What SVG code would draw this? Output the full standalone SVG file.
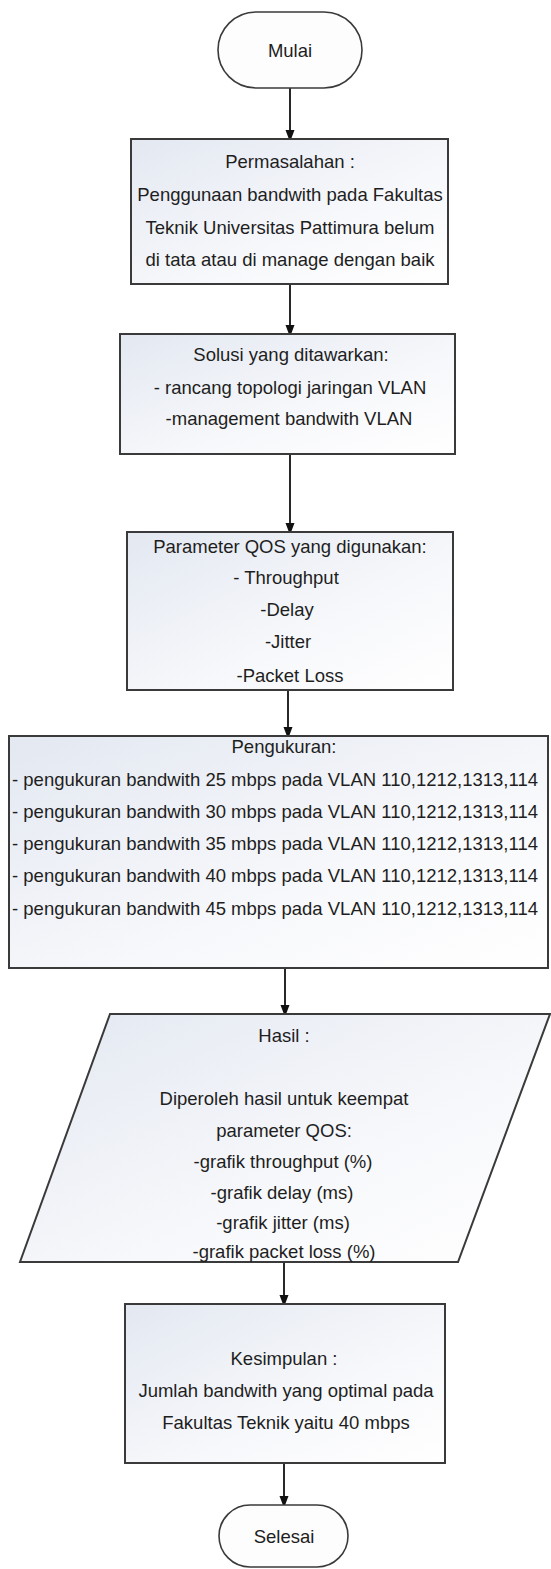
<svg xmlns="http://www.w3.org/2000/svg" width="551" height="1569" viewBox="0 0 551 1569">
<style>
.box{stroke:#3a3a3a;stroke-width:2;fill:url(#g)}
.term{stroke:#3a3a3a;stroke-width:1.6;fill:#fdfdfd}
text{font-family:"Liberation Sans",Arial,sans-serif;font-size:18.5px;fill:#1e1e1e;text-anchor:middle}
.conn{stroke:#111;stroke-width:1.8;fill:none;marker-end:url(#ah)}
</style>
<defs>
<linearGradient id="g" x1="0" y1="0" x2="1" y2="1">
<stop offset="0" stop-color="#e3e8f1"/>
<stop offset="0.6" stop-color="#f7f8fb"/>
<stop offset="1" stop-color="#ffffff"/>
</linearGradient>
<marker id="ah" markerWidth="12" markerHeight="16" refX="12" refY="6" orient="auto" markerUnits="userSpaceOnUse" viewBox="0 0 16 12">
<path d="M0,0 L16,6 L0,12 Z" fill="#111"/>
</marker>
</defs>
<rect width="551" height="1569" fill="#ffffff"/>

<g id="connectors">
<line class="conn" x1="290" y1="88" x2="290" y2="139"/>
<line class="conn" x1="290" y1="284" x2="290" y2="334"/>
<line class="conn" x1="290" y1="454" x2="290" y2="532"/>
<line class="conn" x1="288" y1="690" x2="288" y2="736"/>
<line class="conn" x1="285" y1="968" x2="285" y2="1014"/>
<line class="conn" x1="284" y1="1262" x2="284" y2="1304"/>
<line class="conn" x1="284" y1="1463" x2="284" y2="1505"/>
</g>

<g id="mulai">
<rect class="term" x="218" y="12" width="144" height="76" rx="38" ry="38"/>
<text x="290" y="57">Mulai</text>
</g>

<g id="permasalahan">
<rect class="box" x="131" y="139" width="317" height="145"/>
<text x="290" y="168">Permasalahan :</text>
<text x="290" y="201">Penggunaan bandwith pada Fakultas</text>
<text x="290" y="234">Teknik Universitas Pattimura belum</text>
<text x="290" y="266">di tata atau di manage dengan baik</text>
</g>

<g id="solusi">
<rect class="box" x="120" y="334" width="335" height="120"/>
<text x="291" y="361">Solusi yang ditawarkan:</text>
<text x="290" y="394">- rancang topologi jaringan VLAN</text>
<text x="289" y="425">-management bandwith VLAN</text>
</g>

<g id="parameter">
<rect class="box" x="127" y="532" width="326" height="158"/>
<text x="290" y="553">Parameter QOS yang digunakan:</text>
<text x="286" y="584">- Throughput</text>
<text x="287" y="616">-Delay</text>
<text x="288" y="648">-Jitter</text>
<text x="290" y="682">-Packet Loss</text>
</g>

<g id="pengukuran">
<rect class="box" x="9" y="736" width="539" height="232"/>
<text x="284" y="753">Pengukuran:</text>
<text x="275" y="786">- pengukuran bandwith 25 mbps pada VLAN 110,1212,1313,114</text>
<text x="275" y="818">- pengukuran bandwith 30 mbps pada VLAN 110,1212,1313,114</text>
<text x="275" y="850">- pengukuran bandwith 35 mbps pada VLAN 110,1212,1313,114</text>
<text x="275" y="882">- pengukuran bandwith 40 mbps pada VLAN 110,1212,1313,114</text>
<text x="275" y="915">- pengukuran bandwith 45 mbps pada VLAN 110,1212,1313,114</text>
</g>

<g id="hasil">
<polygon class="box" points="110,1014 550,1014 458,1262 20,1262"/>
<text x="284" y="1042">Hasil :</text>
<text x="284" y="1105">Diperoleh hasil untuk keempat</text>
<text x="284" y="1137">parameter QOS:</text>
<text x="283" y="1168">-grafik throughput (%)</text>
<text x="282" y="1199">-grafik delay (ms)</text>
<text x="283" y="1229">-grafik jitter (ms)</text>
<text x="284" y="1258">-grafik packet loss (%)</text>
</g>

<g id="kesimpulan">
<rect class="box" x="125" y="1304" width="320" height="159"/>
<text x="284" y="1365">Kesimpulan :</text>
<text x="286" y="1397">Jumlah bandwith yang optimal pada</text>
<text x="286" y="1429">Fakultas Teknik yaitu 40 mbps</text>
</g>

<g id="selesai">
<rect class="term" x="219" y="1505" width="129" height="62" rx="31" ry="31"/>
<text x="284" y="1543">Selesai</text>
</g>
</svg>
